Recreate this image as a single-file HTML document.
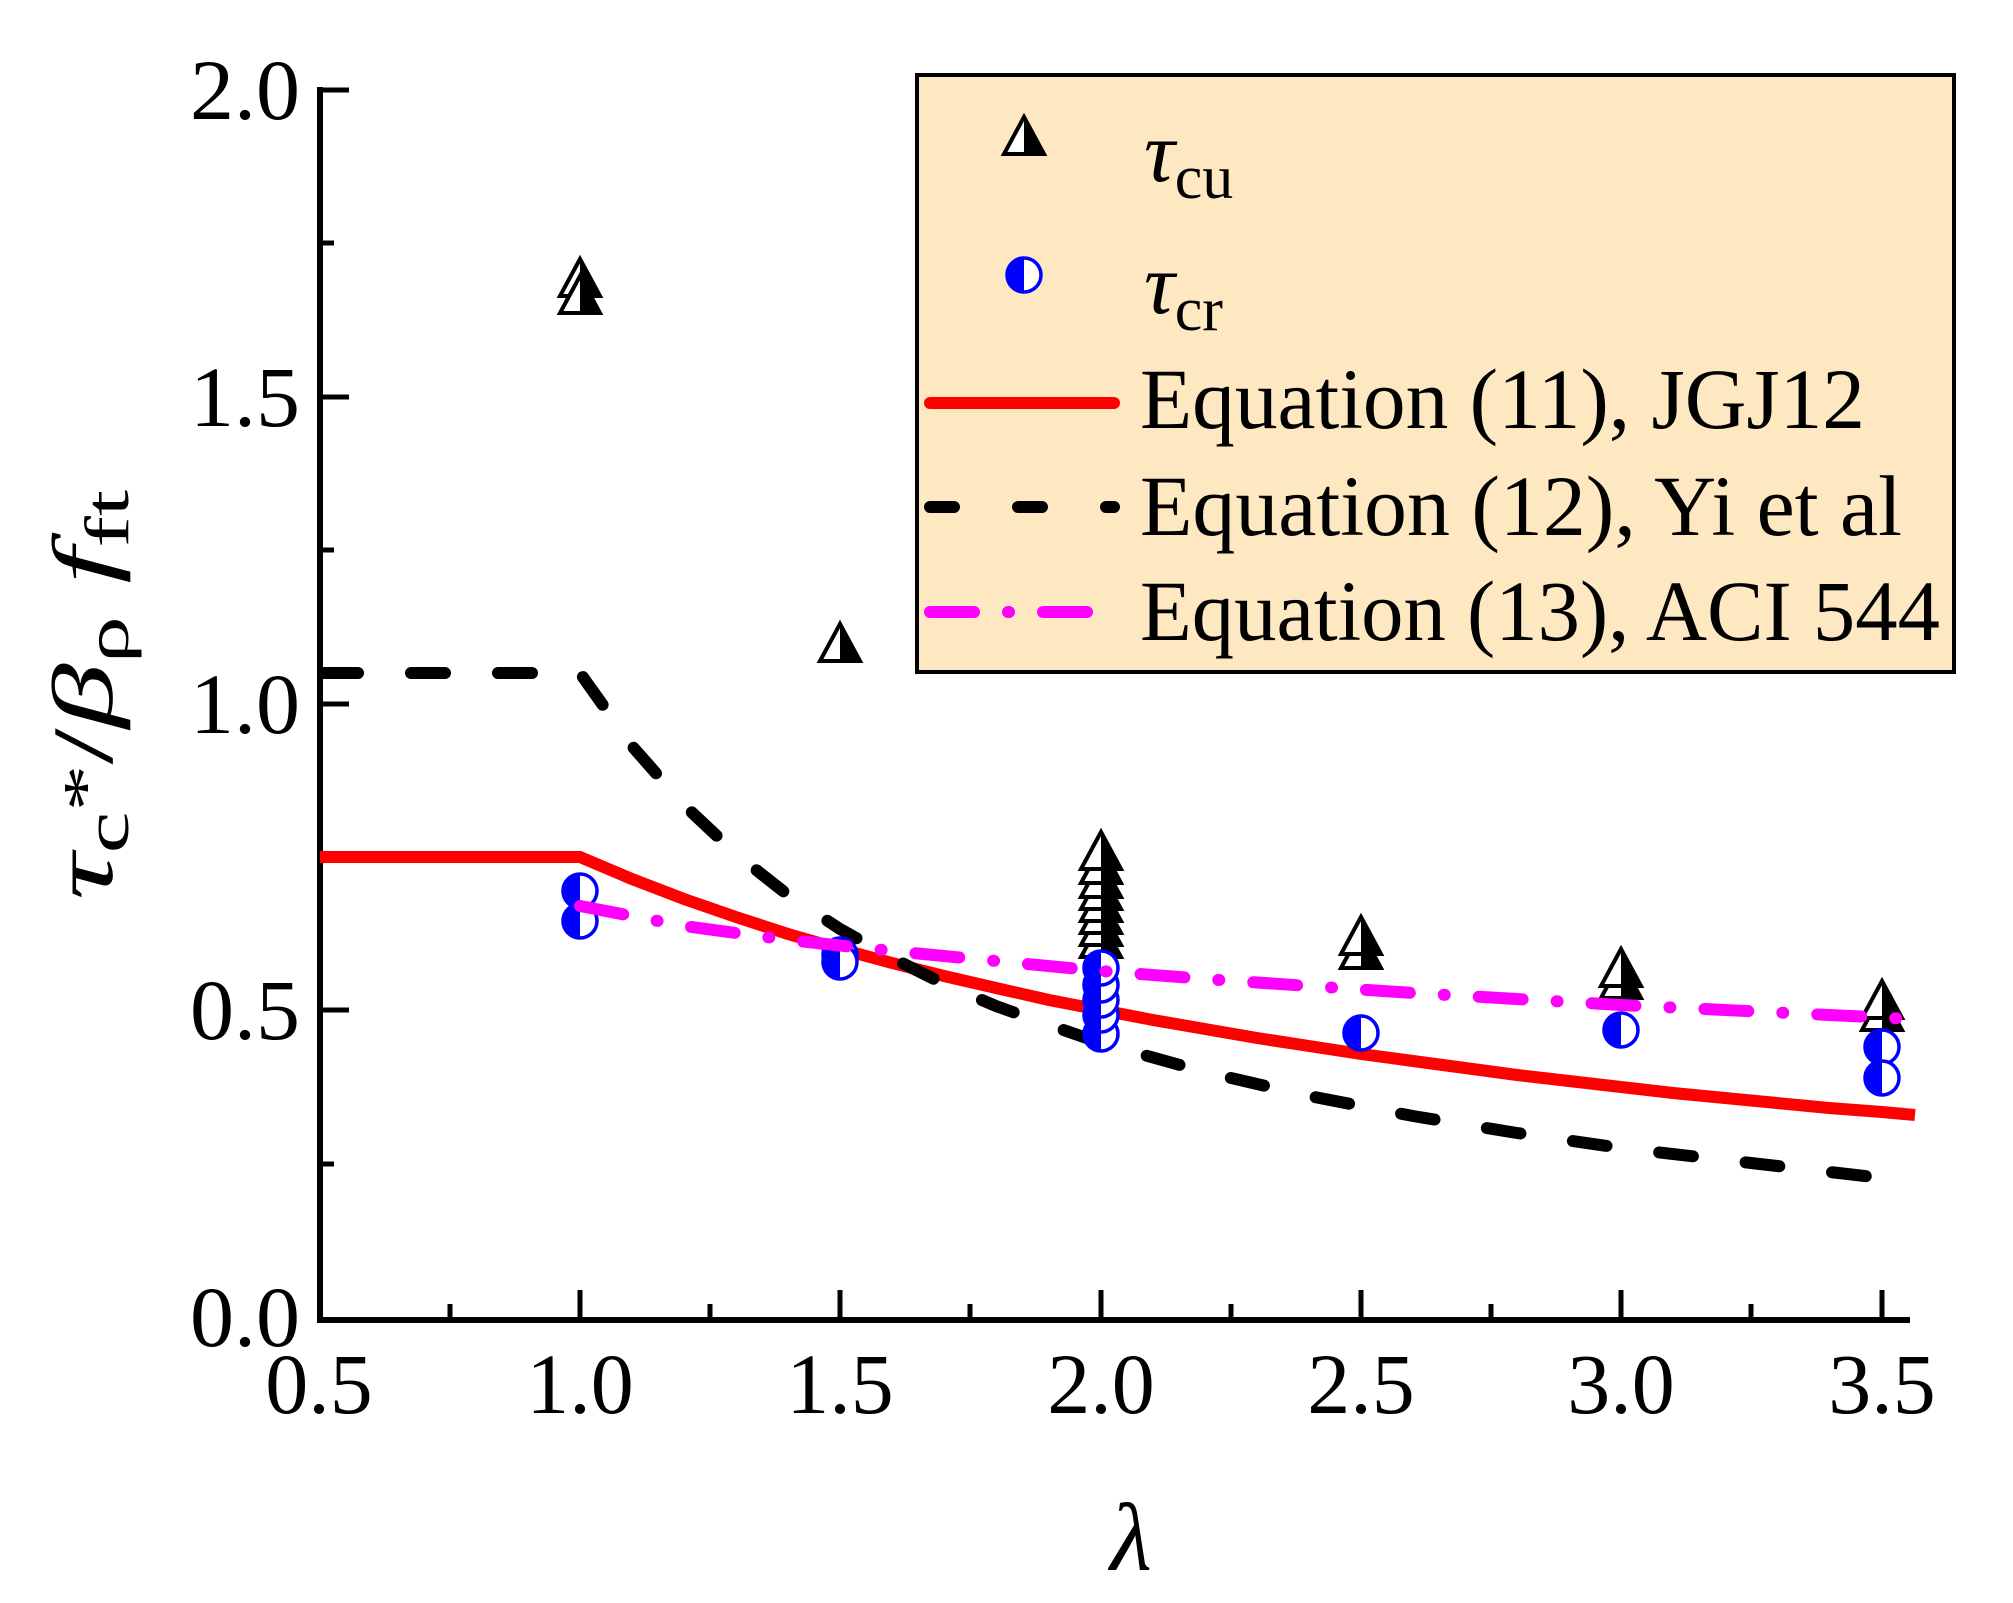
<!DOCTYPE html>
<html><head><meta charset="utf-8"><style>html,body{margin:0;padding:0;background:#fff}svg{display:block}</style></head>
<body>
<svg width="2013" height="1603" viewBox="0 0 2013 1603" xmlns="http://www.w3.org/2000/svg" font-family="Liberation Serif, serif">
<defs>
<g id="tri">
<polygon points="0,-24 -20,13 20,13" fill="#fff" stroke="#000" stroke-width="4" stroke-linejoin="miter"/>
<polygon points="0,-24 0,13 20,13" fill="#000"/>
</g>
<g id="cir">
<circle r="17" fill="#fff" stroke="#0000ff" stroke-width="3.5"/>
<path d="M0,-18.5 A18.5,18.5 0 0 0 0,18.5 Z" fill="#0000ff"/>
</g>
</defs>
<!-- legend -->
<rect x="917" y="75" width="1037" height="597" fill="#fde8c2" stroke="#000" stroke-width="4"/>
<!-- axes -->
<g stroke="#000" stroke-width="6" fill="none">
<path d="M320,87 L320,1320 L1910,1320"/>
</g>
<g stroke="#000" stroke-width="5">
<path d="M320,90 H349 M320,397 H349 M320,704 H349 M320,1010 H349 M320,243 H334 M320,550 H334 M320,857 H334 M320,1164 H334"/>
<path d="M580,1317 V1290 M840,1317 V1290 M1101,1317 V1290 M1361,1317 V1290 M1621,1317 V1290 M1882,1317 V1290 M450,1317 V1304 M710,1317 V1304 M970,1317 V1304 M1231,1317 V1304 M1491,1317 V1304 M1751,1317 V1304"/>
</g>
<g font-size="86" text-anchor="end" fill="#000">
<text x="300" y="119" textLength="110" lengthAdjust="spacingAndGlyphs">2.0</text>
<text x="300" y="426" textLength="110" lengthAdjust="spacingAndGlyphs">1.5</text>
<text x="300" y="733" textLength="110" lengthAdjust="spacingAndGlyphs">1.0</text>
<text x="300" y="1039" textLength="110" lengthAdjust="spacingAndGlyphs">0.5</text>
<text x="300" y="1346" textLength="110" lengthAdjust="spacingAndGlyphs">0.0</text>
</g>
<g font-size="86" text-anchor="middle" fill="#000">
<text x="319" y="1413">0.5</text>
<text x="580" y="1413">1.0</text>
<text x="840" y="1413">1.5</text>
<text x="1101" y="1413">2.0</text>
<text x="1361" y="1413">2.5</text>
<text x="1621" y="1413">3.0</text>
<text x="1882" y="1413">3.5</text>
</g>
<text x="1131" y="1570" font-size="96" font-style="italic" text-anchor="middle">λ</text>
<!-- y label -->
<g transform="translate(112,900) rotate(-90)">
<text x="0" y="0" font-size="86" textLength="410" lengthAdjust="spacingAndGlyphs"><tspan font-style="italic">τ</tspan><tspan font-size="62" dy="16">c</tspan><tspan dy="-22" font-size="62">*</tspan><tspan dy="6">/</tspan><tspan font-style="italic">β</tspan><tspan font-size="62" dy="16">ρ</tspan><tspan dy="-16" font-style="italic"> f</tspan><tspan font-size="62" dy="16">ft</tspan></text>
</g>
<!-- lines -->
<polyline fill="none" stroke="#ff0000" stroke-width="12" points="320,857 580,857 632,879 684,899 736,917 788,934 840,949 892,963 944,976 996,988 1049,1000 1101,1010 1153,1020 1205,1029 1257,1038 1309,1046 1361,1054 1413,1061 1465,1068 1517,1075 1569,1081 1621,1087 1673,1093 1725,1098 1777,1103 1829,1108 1882,1112 1915,1115"/>
<polyline fill="none" stroke="#000" stroke-width="12" stroke-linecap="round" stroke-dasharray="34 53" points="324,673 580,673 632,746 684,805 736,854 788,895 840,929 892,958 944,984 996,1006 1049,1025 1101,1043 1205,1072 1309,1096 1413,1116 1517,1133 1621,1148 1725,1160 1882,1178"/>
<!-- scatter -->
<g>
<use href="#tri" x="580" y="283"/><use href="#tri" x="580" y="300"/>
<use href="#tri" x="840" y="648"/>
<use href="#tri" x="1101" y="944"/><use href="#tri" x="1101" y="932"/><use href="#tri" x="1101" y="920"/><use href="#tri" x="1101" y="908"/><use href="#tri" x="1101" y="896"/><use href="#tri" x="1101" y="884"/><use href="#tri" x="1101" y="870"/><use href="#tri" x="1101" y="856"/>
<use href="#tri" x="1361" y="955"/><use href="#tri" x="1361" y="941"/>
<use href="#tri" x="1621" y="985"/><use href="#tri" x="1621" y="973"/>
<use href="#tri" x="1882" y="1017"/><use href="#tri" x="1882" y="1005"/>
<use href="#cir" x="580" y="891"/><use href="#cir" x="580" y="921"/>
<use href="#cir" x="840" y="955"/><use href="#cir" x="840" y="962"/>
<use href="#cir" x="1101" y="1034"/><use href="#cir" x="1101" y="1015"/><use href="#cir" x="1101" y="1000"/><use href="#cir" x="1101" y="985"/><use href="#cir" x="1101" y="968"/>
<use href="#cir" x="1361" y="1033"/>
<use href="#cir" x="1621" y="1030"/>
<use href="#cir" x="1882" y="1047"/><use href="#cir" x="1882" y="1078"/>
</g>
<polyline fill="none" stroke="#ff00ff" stroke-width="12" stroke-linecap="round" stroke-dasharray="44 34 1 34" points="580,906 684,926 788,940 892,951 996,961 1101,971 1205,979 1309,986 1413,993 1517,999 1621,1005 1725,1010 1829,1015 1912,1019"/>
<!-- legend content -->
<use href="#tri" x="1024" y="141"/>
<use href="#cir" x="1024" y="275"/>
<text x="1144" y="181" font-size="86" font-style="italic">τ<tspan font-style="normal" font-size="62" dy="17">cu</tspan></text>
<text x="1144" y="313" font-size="86" font-style="italic">τ<tspan font-style="normal" font-size="62" dy="17">cr</tspan></text>
<line x1="930" y1="403" x2="1114" y2="403" stroke="#ff0000" stroke-width="12" stroke-linecap="round"/>
<line x1="930" y1="507" x2="1114" y2="507" stroke="#000" stroke-width="12" stroke-linecap="round" stroke-dasharray="24 64"/>
<line x1="930" y1="612" x2="1114" y2="612" stroke="#ff00ff" stroke-width="12" stroke-linecap="round" stroke-dasharray="44 34 1 34"/>
<g font-size="86" fill="#000">
<text x="1140" y="428" textLength="725" lengthAdjust="spacingAndGlyphs">Equation (11), JGJ12</text>
<text x="1140" y="535" textLength="762" lengthAdjust="spacingAndGlyphs">Equation (12), Yi et al</text>
<text x="1140" y="640" textLength="800" lengthAdjust="spacingAndGlyphs">Equation (13), ACI 544</text>
</g>
</svg>
</body></html>
